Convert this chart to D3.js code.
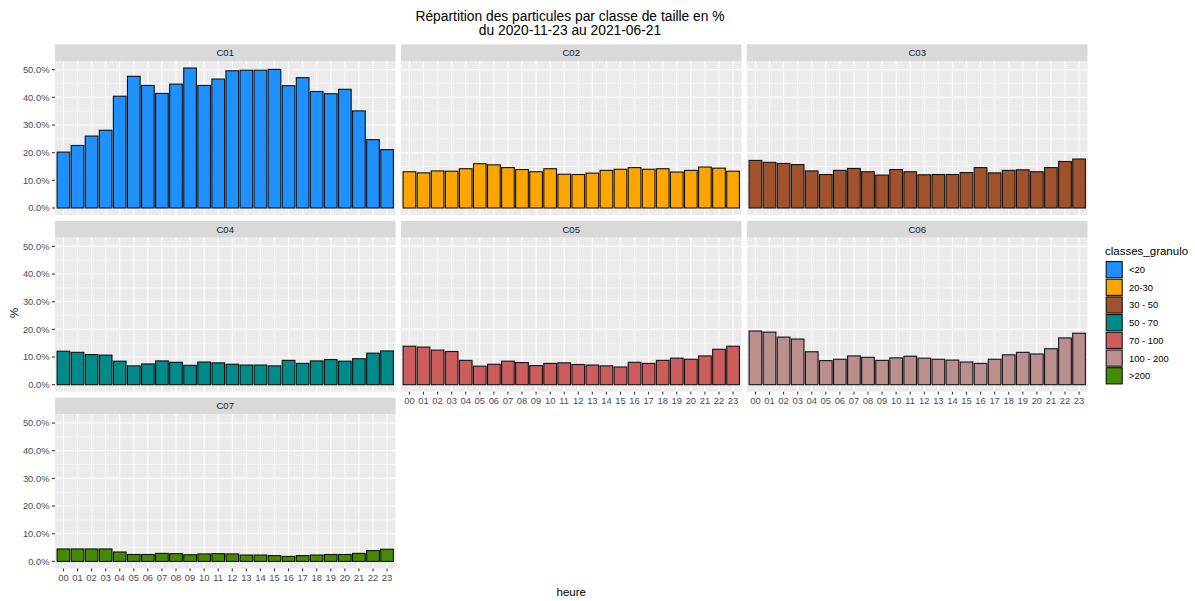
<!DOCTYPE html>
<html><head><meta charset="utf-8">
<script src="https://cdn.jsdelivr.net/npm/d3@7"></script>
<style>body{margin:0;background:#fff}svg{display:block;font-family:"Liberation Sans",Arial,sans-serif}</style>
</head><body><svg id="c" width="1195" height="601"></svg>
<script>
const hours = ["00","01","02","03","04","05","06","07","08","09","10","11","12","13","14","15","16","17","18","19","20","21","22","23"];
const panels = ["C01","C02","C03","C04","C05","C06","C07"];
const classes = ["<20","20-30","30 - 50","50 - 70","70 - 100","100 - 200",">200"];
const colors = ["#1E90FF","#FFA500","#A0522D","#008B8B","#CD5C5C","#BC8F8F","#458B00"];
const C01 = [20.2,22.6,26.0,28.1,40.4,47.6,44.3,41.4,44.8,50.6,44.3,46.6,49.6,49.8,49.8,50.1,44.2,47.1,42.1,41.3,42.9,35.1,24.7,21.1];
const C02 = [13.1,12.7,13.4,13.3,14.2,16.0,15.6,14.6,13.9,13.1,14.2,12.2,12.1,12.6,13.6,14.0,14.6,14.0,14.2,13.0,13.6,14.8,14.4,13.3];
const C03 = [17.2,16.5,16.1,15.7,13.4,12.1,13.6,14.3,13.1,11.9,13.9,13.1,12.0,12.1,12.1,12.8,14.6,12.7,13.6,13.8,13.1,14.6,16.8,17.7];
const C04 = [12.1,11.7,10.9,10.7,8.5,6.8,7.5,8.6,8.1,7.0,8.2,7.9,7.4,7.1,7.1,6.8,8.8,7.7,8.6,9.1,8.5,9.4,11.4,12.2];
const C05 = [13.9,13.6,12.5,12.0,8.8,6.7,7.4,8.5,8.0,6.9,7.7,7.9,7.3,7.1,6.8,6.4,8.1,7.7,8.8,9.6,9.2,10.4,12.8,13.9];
const C06 = [19.4,19.0,17.2,16.5,11.9,8.7,9.2,10.4,9.9,8.8,9.7,10.3,9.6,9.2,8.9,8.2,7.7,9.2,10.8,11.7,11.1,13.0,16.9,18.6];
const C07 = [4.5,4.5,4.5,4.5,3.4,2.5,2.5,2.9,2.8,2.4,2.7,2.8,2.7,2.3,2.3,2.1,1.8,2.1,2.3,2.5,2.5,2.9,3.9,4.4];
const yTicks = [0,10,20,30,40,50];
const yMinor = [5,15,25,35,45];
const seriesList = [C01,C02,C03,C04,C05,C06,C07];

(function(){
const svg = d3.select("#c");
const L = 55, R = 1087.5, T = 44.3, stripH = 16.7, panelH = 154, rowGap = 6, colGap = 5.5;
const pw = (R - L - 2*colGap)/3;
const rowPitch = stripH + panelH + rowGap;
const ymax = d3.max(seriesList.flat());
const y = d3.scaleLinear().domain([-0.05*ymax, ymax*1.05]).range([panelH, 0]);
// discrete x: ggplot expand 0.6 units each side, bar width 0.9
const x = d3.scalePoint().domain(hours).range([0, pw]).padding(0.6);
const unit = x.step();
const bw = unit*0.9;
const fmt = d => d.toFixed(1) + "%";

svg.append("text").attr("x", 570).attr("y", 21).attr("text-anchor","middle").attr("font-size",13.8).attr("fill","#000")
  .text("Répartition des particules par classe de taille en %");
svg.append("text").attr("x", 570).attr("y", 35).attr("text-anchor","middle").attr("font-size",13.8).attr("fill","#000")
  .text("du 2020-11-23 au 2021-06-21");

panels.forEach((p, i) => {
  const col = i % 3, row = Math.floor(i/3);
  const px = L + col*(pw + colGap);
  const sy = T + row*rowPitch;
  const py = sy + stripH;
  const g = svg.append("g");
  g.append("rect").attr("x", px).attr("y", sy).attr("width", pw).attr("height", stripH).attr("fill","#D9D9D9");
  g.append("text").attr("x", px + pw/2).attr("y", sy + stripH/2).attr("dy","0.35em").attr("text-anchor","middle")
    .attr("font-size",9.6).attr("fill","#1A1A1A").text(p);
  const pg = g.append("g").attr("transform", `translate(${px},${py})`);
  pg.append("rect").attr("width", pw).attr("height", panelH).attr("fill","#EBEBEB");
  pg.selectAll(".mn").data(yMinor).join("line").attr("x1",0).attr("x2",pw)
    .attr("y1", d=>y(d)).attr("y2", d=>y(d)).attr("stroke","#fff").attr("stroke-width",0.55);
  pg.selectAll(".mj").data(yTicks).join("line").attr("x1",0).attr("x2",pw)
    .attr("y1", d=>y(d)).attr("y2", d=>y(d)).attr("stroke","#fff").attr("stroke-width",1.1);
  pg.selectAll(".vx").data(hours).join("line").attr("x1", d=>x(d)).attr("x2", d=>x(d))
    .attr("y1",0).attr("y2",panelH).attr("stroke","#fff").attr("stroke-width",1.1);
  const vals = seriesList[i];
  pg.selectAll(".bar").data(hours.map((h,k)=>({h, v: vals[k]}))).join("rect")
    .attr("x", d => x(d.h) - bw/2).attr("width", bw)
    .attr("y", d => y(d.v)).attr("height", d => y(0) - y(d.v))
    .attr("fill", colors[i]).attr("stroke","#111").attr("stroke-width",1.1);
  if (col === 0) {
    const ya = pg.append("g");
    yTicks.forEach(t => {
      ya.append("line").attr("x1",-2.9).attr("x2",0).attr("y1",y(t)).attr("y2",y(t)).attr("stroke","#333").attr("stroke-width",1.1);
      ya.append("text").attr("x",-5.5).attr("y",y(t)).attr("dy","0.35em").attr("text-anchor","end")
        .attr("font-size",9.4).attr("fill","#4D4D4D").text(fmt(t));
    });
  }
  if (i >= 4) {
    const xa = pg.append("g").attr("transform", `translate(0,${panelH})`);
    hours.forEach(h => {
      xa.append("line").attr("x1",x(h)).attr("x2",x(h)).attr("y1",0).attr("y2",2.9).attr("stroke","#333").attr("stroke-width",1.1);
      xa.append("text").attr("x",x(h)).attr("y",5.5).attr("dy","0.75em").attr("text-anchor","middle")
        .attr("font-size",9.4).attr("fill","#4D4D4D").text(h);
    });
  }
});

svg.append("text").attr("x", (L+R)/2).attr("y", 596).attr("text-anchor","middle").attr("font-size",11.5).attr("fill","#000").text("heure");
svg.append("text").attr("transform","translate(18,313) rotate(-90)").attr("text-anchor","middle").attr("font-size",11.5).attr("fill","#000").text("%");

const lg = svg.append("g");
lg.append("text").attr("x",1105).attr("y",255).attr("font-size",11.5).attr("fill","#000").text("classes_granulo");
const keyStep = 17.7;
classes.forEach((c, k) => {
  const ky = 261 + k*keyStep;
  lg.append("rect").attr("x",1106.2).attr("y",ky+0.5).attr("width",16).attr("height",16.2)
    .attr("fill",colors[k]).attr("stroke","#111").attr("stroke-width",1.1);
  lg.append("text").attr("x",1129).attr("y",ky + 8.8).attr("dy","0.35em").attr("font-size",9.4).attr("fill","#000").text(c);
});
})();
</script></body></html>
